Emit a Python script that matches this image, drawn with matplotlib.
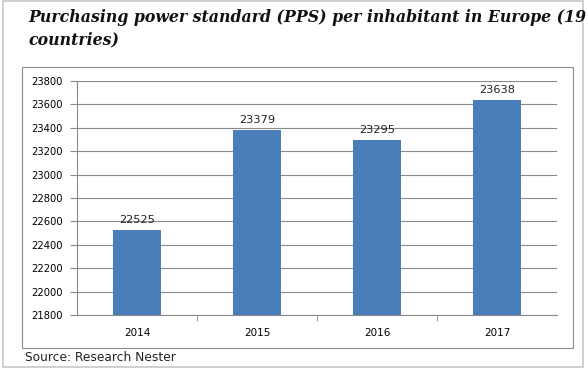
import matplotlib.pyplot as plt
from matplotlib.patches import Rectangle

years = ["2014", "2015", "2016", "2017"]
pps = [22525, 23379, 23295, 23638]
yticks = list(range(21800, 23801, 200))

fig = plt.figure(figsize=(5.88, 3.71), dpi=100)
fig.patch.set_facecolor("white")

# outer light border and chart frame
fig.patches.append(Rectangle((3 / 588, 4 / 371), 580 / 588, 366 / 371, transform=fig.transFigure,
                             fill=False, edgecolor="#c8c8c8", linewidth=1.2))
fig.patches.append(Rectangle((22 / 588, 1 - 348 / 371), 551 / 588, 281 / 371, transform=fig.transFigure,
                             fill=False, edgecolor="#8c8c8c", linewidth=0.8))

ax = fig.add_axes([77 / 588, 1 - 315 / 371, 480 / 588, 234 / 371])
x = range(len(years))
ax.bar(x, pps, width=0.4, color="#4a7ebb", zorder=3)
for i, v in zip(x, pps):
    ax.text(i, v + 45, str(v), ha="center", va="bottom", fontsize=8.2, color="#222222",
            family="DejaVu Sans")

ax.set_ylim(21800, 23800)
ax.set_xlim(-0.5, 3.5)
ax.set_yticks(yticks)
ax.set_yticklabels([str(t) for t in yticks], fontsize=7.2, family="DejaVu Sans")
ax.yaxis.grid(True, color="#8a8a8a", linewidth=0.8, zorder=0)
ax.set_xticks(list(x))
ax.set_xticklabels(years, fontsize=7.5, family="DejaVu Sans")
ax.tick_params(axis="x", length=0, pad=9)
ax.set_xticks([0.5, 1.5, 2.5], minor=True)
ax.tick_params(axis="x", which="minor", length=4, color="#8a8a8a")
ax.tick_params(axis="y", length=5, color="#8a8a8a", pad=5)
for s in ["top", "right"]:
    ax.spines[s].set_visible(False)
ax.spines["left"].set_color("#8a8a8a")
ax.spines["bottom"].set_color("#8a8a8a")

fig.text(28 / 588, 1 - 22 / 371, "Purchasing power standard (PPS) per inhabitant in Europe (19",
         fontsize=11.3, fontweight="bold", fontstyle="italic", family="DejaVu Serif",
         va="baseline", color="#111111")
fig.text(28 / 588, 1 - 44 / 371, "countries)",
         fontsize=11.3, fontweight="bold", fontstyle="italic", family="DejaVu Serif",
         va="baseline", color="#111111")
fig.text(25 / 588, 1 - 361 / 371, "Source: Research Nester", fontsize=8.8,
         family="DejaVu Sans", va="baseline", color="#222222")

plt.savefig("out.png", dpi=100)
